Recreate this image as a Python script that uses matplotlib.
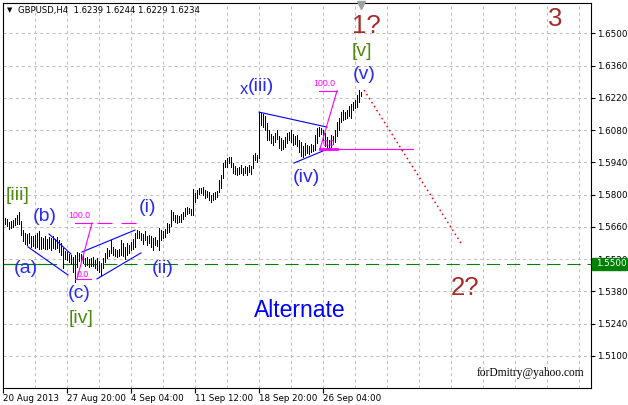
import matplotlib
matplotlib.use("Agg")
import matplotlib.pyplot as plt
from matplotlib.patches import Rectangle

# GBPUSD H4 bars, one per 4h bar starting 20 Aug 2013
highs = [
    1.5690, 1.5698, 1.5694, 1.5681, 1.5685, 1.5690, 1.5698, 1.5711, 1.5724, 1.5685,
    1.5646, 1.5633, 1.5629, 1.5633, 1.5620, 1.5620, 1.5625, 1.5633, 1.5642, 1.5616,
    1.5612, 1.5620, 1.5607, 1.5616, 1.5612, 1.5620, 1.5607, 1.5616, 1.5603, 1.5590,
    1.5568, 1.5555, 1.5551, 1.5542, 1.5538, 1.5529, 1.5538, 1.5551, 1.5547, 1.5542,
    1.5538, 1.5525, 1.5529, 1.5520, 1.5525, 1.5529, 1.5516, 1.5525, 1.5512, 1.5503,
    1.5525, 1.5547, 1.5568, 1.5560, 1.5603, 1.5573, 1.5564, 1.5560, 1.5564, 1.5603,
    1.5590, 1.5573, 1.5590, 1.5581, 1.5594, 1.5607, 1.5633, 1.5646, 1.5642, 1.5633,
    1.5629, 1.5642, 1.5620, 1.5625, 1.5620, 1.5612, 1.5616, 1.5603, 1.5655, 1.5646,
    1.5642, 1.5651, 1.5677, 1.5672, 1.5733, 1.5724, 1.5711, 1.5711, 1.5707, 1.5716,
    1.5724, 1.5742, 1.5746, 1.5742, 1.5737, 1.5824, 1.5807, 1.5820, 1.5829, 1.5829,
    1.5833, 1.5820, 1.5816, 1.5811, 1.5798, 1.5807, 1.5811, 1.5816, 1.5863, 1.5885,
    1.5937, 1.5950, 1.5959, 1.5963, 1.5963, 1.5937, 1.5924, 1.5915, 1.5920, 1.5928,
    1.5915, 1.5924, 1.5920, 1.5928, 1.5924, 1.5972, 1.5980, 1.5972, 1.6158, 1.6154,
    1.6150, 1.6141, 1.6111, 1.6080, 1.6063, 1.6054, 1.6067, 1.6080, 1.6054, 1.6046,
    1.6037, 1.6050, 1.6067, 1.6072, 1.6080, 1.6063, 1.6054, 1.6059, 1.6037, 1.6028,
    1.6011, 1.6024, 1.6015, 1.6011, 1.6020, 1.6015, 1.6059, 1.6089, 1.6093, 1.6089,
    1.6080, 1.6067, 1.6050, 1.6037, 1.6059, 1.6054, 1.6080, 1.6115, 1.6132, 1.6158,
    1.6167, 1.6158, 1.6167, 1.6184, 1.6193, 1.6202, 1.6211, 1.6232, 1.6254, 1.6244,
]
lows = [
    1.5659, 1.5672, 1.5664, 1.5651, 1.5655, 1.5659, 1.5668, 1.5672, 1.5672, 1.5625,
    1.5599, 1.5586, 1.5581, 1.5590, 1.5573, 1.5577, 1.5568, 1.5573, 1.5564, 1.5564,
    1.5568, 1.5564, 1.5564, 1.5568, 1.5560, 1.5568, 1.5564, 1.5568, 1.5551, 1.5538,
    1.5481, 1.5520, 1.5516, 1.5507, 1.5499, 1.5464, 1.5421, 1.5486, 1.5512, 1.5507,
    1.5503, 1.5490, 1.5494, 1.5486, 1.5490, 1.5490, 1.5481, 1.5473, 1.5464, 1.5451,
    1.5481, 1.5507, 1.5525, 1.5534, 1.5547, 1.5538, 1.5534, 1.5529, 1.5534, 1.5538,
    1.5534, 1.5520, 1.5538, 1.5547, 1.5560, 1.5564, 1.5573, 1.5612, 1.5612, 1.5603,
    1.5586, 1.5603, 1.5581, 1.5590, 1.5573, 1.5560, 1.5581, 1.5577, 1.5560, 1.5603,
    1.5612, 1.5616, 1.5633, 1.5638, 1.5664, 1.5690, 1.5681, 1.5677, 1.5681, 1.5681,
    1.5694, 1.5707, 1.5716, 1.5720, 1.5711, 1.5711, 1.5768, 1.5785, 1.5803, 1.5807,
    1.5798, 1.5785, 1.5790, 1.5777, 1.5768, 1.5777, 1.5781, 1.5790, 1.5811, 1.5829,
    1.5872, 1.5920, 1.5920, 1.5937, 1.5920, 1.5894, 1.5889, 1.5885, 1.5889, 1.5894,
    1.5885, 1.5894, 1.5885, 1.5898, 1.5889, 1.5915, 1.5950, 1.5941, 1.5959, 1.6102,
    1.6093, 1.6080, 1.6037, 1.6037, 1.6024, 1.6015, 1.6028, 1.6041, 1.6002, 1.5993,
    1.5998, 1.6007, 1.6024, 1.6037, 1.6028, 1.6015, 1.6020, 1.6011, 1.5985, 1.5967,
    1.5963, 1.5972, 1.5980, 1.5976, 1.5985, 1.5989, 1.5993, 1.6024, 1.6054, 1.6063,
    1.6037, 1.6011, 1.6002, 1.5993, 1.6007, 1.6020, 1.6028, 1.6054, 1.6080, 1.6115,
    1.6124, 1.6128, 1.6132, 1.6141, 1.6132, 1.6167, 1.6176, 1.6180, 1.6202, 1.6229,
]

date_ticks = [0, 32, 64, 96, 128, 160]
date_labels = ["20 Aug 2013", "27 Aug 20:00", "4 Sep 04:00",
               "11 Sep 12:00", "18 Sep 20:00", "26 Sep 04:00"]
price_ticks = [1.5100, 1.5240, 1.5380, 1.5520, 1.5660, 1.5800,
               1.5940, 1.6080, 1.6220, 1.6360, 1.6500]
title_text = "GBPUSD,H4  1.6239 1.6244 1.6229 1.6234"
level_price = 1.5500

# drawn objects, (bar index, price)
blue_lines = [
    ((12.5, 1.5573), (32.5, 1.5451)),
    ((23, 1.5629), (34, 1.5542)),
    ((39.5, 1.5551), (66, 1.5646)),
    ((47, 1.5434), (69, 1.5547)),
    ((128, 1.6158), (162, 1.6093)),
    ((145.5, 1.5937), (163.5, 1.6002)),
]
fib_low = {"p100": 1.5677, "p0": 1.5434, "x100": (36, 44.5), "x0": (36, 44),
           "diag": ((44.5, 1.5677), (37, 1.5434)), "ray": (44.5, 67.5)}
fib_high = {"p100": 1.6250, "p0": 1.5998, "x100": (158, 167), "x0": (158.5, 167),
            "diag": ((167, 1.6250), (158.5, 1.5998)), "ray": (167, 205)}
fib_texts = [("100.0", 32.5, 1.5711), ("0.0", 37, 1.5455),
             ("100.0", 155, 1.6280), ("0.0", 160, 1.6020)]
forecast = ((180.5, 1.6254), (229, 1.5589))

blue_labels = [("(a)", 11.5, 1.5481), ("(b)", 21, 1.5703), ("(c)", 38, 1.5369),
               ("(i)", 72, 1.5744), ("(ii)", 80, 1.5481), ("(iii)", 129, 1.6267),
               ("(iv)", 151.5, 1.5872), ("(v)", 180.5, 1.6323)]
green_labels = [("[iii]", 7.3, 1.5794), ("[iv]", 39, 1.5264), ("[v]", 179.5, 1.6419)]
brown_labels = [("1?", 181.5, 1.6532), ("2?", 231, 1.5395), ("3", 276, 1.6562)]

plt.rcParams["font.family"] = "DejaVu Sans"
plt.rcParams["lines.scale_dashes"] = False

W, H = 628, 405
fig = plt.figure(figsize=(W / 100, H / 100), dpi=100)
ax = fig.add_axes([3 / W, 17 / H, 588 / W, 385 / H])
ax.set_xlim(0, 294)
ax.set_ylim(1.49606, 1.66315)

# grid
grid_kw = dict(color="#C0C0C0", lw=0.75, dashes=(2.2, 2.2), zorder=0)
for gx in range(16, 294, 16):
    ax.axvline(gx, **grid_kw)
for gy in price_ticks:
    ax.axhline(gy, **grid_kw)

# support level
ax.axhline(level_price, color="#008000", lw=0.8, dashes=(9.5, 5), zorder=1)
ax.plot([0, 21], [level_price, level_price], color="#008000", lw=0.8, zorder=1)

# bars
ax.vlines(range(len(highs)), lows, highs, color="black", lw=0.6,
          antialiased=False, zorder=2)

for (x0, y0), (x1, y1) in blue_lines:
    ax.plot([x0, x1], [y0, y1], color="#0000FF", lw=0.8, zorder=3)

mag = "#FF00FF"
for fib in (fib_low, fib_high):
    ax.plot(fib["x100"], [fib["p100"]] * 2, color=mag, lw=0.8, zorder=3)
    ax.plot(fib["x0"], [fib["p0"]] * 2, color=mag, lw=0.8, zorder=3)
    (dx0, dy0), (dx1, dy1) = fib["diag"]
    ax.plot([dx0, dx1], [dy0, dy1], color=mag, lw=0.8, zorder=3)
ax.plot(fib_low["ray"], [fib_low["p100"]] * 2, color=mag, lw=0.8,
        linestyle=(13.7, (10.8, 6.5)), dash_capstyle="butt", zorder=3)
ax.plot(fib_high["ray"], [fib_high["p0"]] * 2, color=mag, lw=0.8, zorder=3)
ax.plot(fib_high["x0"], [fib_high["p0"]] * 2, color=mag, lw=2.0, zorder=3)
for t, x, y in fib_texts:
    ax.text(x, y, t, color=mag, fontsize=6.3, family="Liberation Sans",
            ha="left", va="center", zorder=4)

(fx0, fy0), (fx1, fy1) = forecast
ax.plot([fx0, fx1], [fy0, fy1], color="#FF0000", lw=1.0, dashes=(1.2, 2.2), zorder=3)

for t, x, y in blue_labels:
    ax.text(x, y, t, color="#2A2AF5", fontsize=14, family="Liberation Sans",
            ha="center", va="center", zorder=4)
ax.text(120.5, 1.6256, "x", color="#2A2AF5", fontsize=12, family="Liberation Sans",
        ha="center", va="center", zorder=4)
for t, x, y in green_labels:
    ax.text(x, y, t, color="#4E8A10", fontsize=14, family="Liberation Sans",
            ha="center", va="center", zorder=4)
for t, x, y in brown_labels:
    ax.text(x, y, t, color="#A52A2A", fontsize=18.5, family="Liberation Sans",
            ha="center", va="center", zorder=4)
ax.text(148.5, 1.5299, "Alternate", color="#0000FF", fontsize=16.5,
        family="Liberation Sans", ha="center", va="center", zorder=4)

# chart shift marker
ax.plot([179], [1.6623], marker="v", ms=5.5, color="#A0A0A0", clip_on=False, zorder=5)

# axes styling
for s in ax.spines.values():
    s.set_color("black")
    s.set_linewidth(0.8)
ax.yaxis.tick_right()
ax.set_yticks(price_ticks)
ax.set_yticklabels([f"{p:.4f}" for p in price_ticks])
ax.set_xticks(date_ticks)
ax.set_xticklabels(date_labels)
ax.tick_params(axis="y", length=3, width=0.8, pad=1, labelsize=6.3, colors="black")
ax.tick_params(axis="x", length=3.5, width=0.8, pad=1, labelsize=6.3, colors="black")
for lbl in ax.get_xticklabels():
    lbl.set_horizontalalignment("left")

# current level box on the price scale
fig.add_artist(Rectangle((592 / W, 1 - 270 / H), 35 / W, 12 / H,
                         transform=fig.transFigure, color="#008000", zorder=5))
fig.text(596 / W, 1 - 264 / H, "1.5500", color="white", fontsize=6.3,
         va="center", ha="left", zorder=6)

fig.text(7 / W, 1 - 10.5 / H, "\u25bc", fontsize=5, va="center", ha="left")
fig.text(18 / W, 1 - 10.5 / H, title_text, fontsize=6.1, va="center", ha="left")
fig.text(584 / W, 1 - 373 / H, "forDmitry@yahoo.com", fontsize=8.3,
         family="Liberation Serif", va="center", ha="right")

fig.savefig("out.png", dpi=100)
